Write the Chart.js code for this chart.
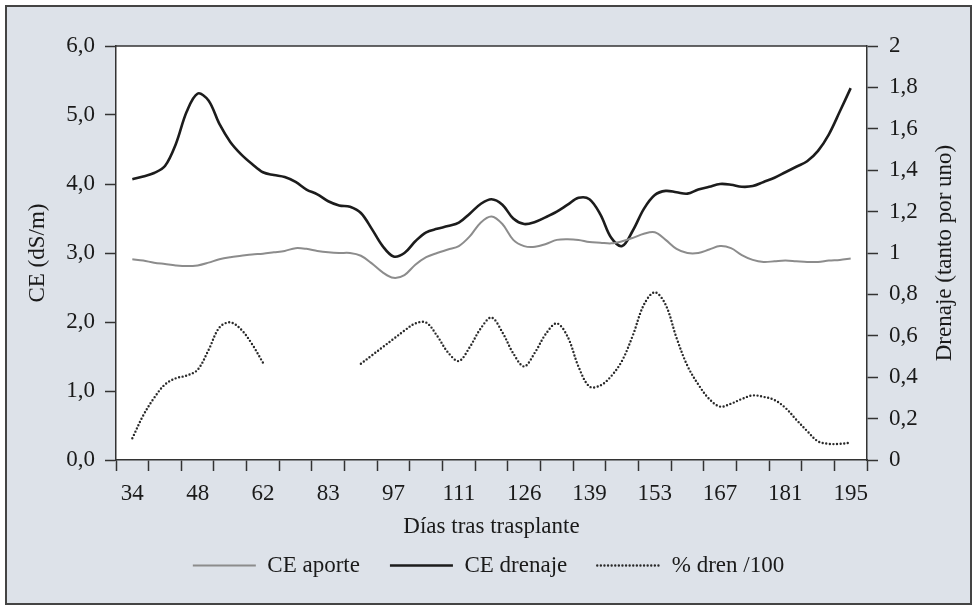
<!DOCTYPE html>
<html lang="es">
<head>
<meta charset="utf-8">
<title>CE aporte y drenaje</title>
<script src="https://cdn.jsdelivr.net/npm/chart.js@4.4.1/dist/chart.umd.min.js"></script>
<style>
  html, body { margin: 0; padding: 0; background: #fff; }
  #marco {
    position: absolute; left: 5px; top: 5px; width: 967px; height: 600px;
    box-sizing: border-box; border: 2px solid #444; background: #dde2e9;
  }
  #lienzo { position: absolute; left: 0; top: 0; width: 977px; height: 607px; }
</style>
</head>
<body>
<div id="marco"></div>
<div id="lienzo"><canvas id="grafico"></canvas></div>
<script>
/* global Chart */

// etiquetas visibles del eje X (una de cada dos marcas)
const diasEtiqueta = ["34", "48", "62", "83", "97", "111", "126", "139", "153", "167", "181", "195"];

// CE aporte (dS/m), eje izquierdo
const ceAporte = [
  2.91, 2.89, 2.86, 2.84, 2.82, 2.81, 2.82, 2.86, 2.91, 2.94,
  2.96, 2.98, 2.99, 3.01, 3.03, 3.07, 3.06, 3.03, 3.01, 3.00,
  3.00, 2.96, 2.85, 2.72, 2.64, 2.68, 2.83, 2.94, 3.00, 3.05,
  3.10, 3.24, 3.44, 3.53, 3.42, 3.19, 3.10, 3.09, 3.13, 3.19,
  3.20, 3.19, 3.16, 3.15, 3.14, 3.17, 3.22, 3.28, 3.30, 3.19,
  3.06, 3.00, 3.00, 3.05, 3.10, 3.07, 2.97, 2.90, 2.87, 2.88,
  2.89, 2.88, 2.87, 2.87, 2.89, 2.90, 2.92
];

// CE drenaje (dS/m), eje izquierdo
const ceDrenaje = [
  4.07, 4.11, 4.16, 4.26, 4.58, 5.05, 5.31, 5.21, 4.87, 4.61,
  4.43, 4.29, 4.17, 4.13, 4.10, 4.03, 3.92, 3.85, 3.75, 3.69,
  3.67, 3.58, 3.35, 3.10, 2.95, 3.00, 3.17, 3.30, 3.35, 3.39,
  3.44, 3.57, 3.71, 3.78, 3.70, 3.50, 3.42, 3.45, 3.52, 3.60,
  3.70, 3.80, 3.78, 3.56, 3.22, 3.10, 3.33, 3.64, 3.84, 3.90,
  3.88, 3.86, 3.92, 3.96, 4.00, 3.99, 3.96, 3.97, 4.03, 4.09,
  4.17, 4.25, 4.33, 4.48, 4.72, 5.05, 5.39
];

// % drenaje / 100, eje derecho (sin datos entre 62 y 90)
const drenaje = [
  0.105, 0.215, 0.300, 0.365, 0.395, 0.408, 0.436, 0.531, 0.640, 0.665,
  0.630, 0.560, 0.470, null, null, null, null, null, null, null,
  null, 0.465, 0.505, 0.545, 0.585, 0.625, 0.660, 0.664, 0.600, 0.520,
  0.478, 0.545, 0.635, 0.688, 0.617, 0.515, 0.452, 0.520, 0.610, 0.660,
  0.595, 0.450, 0.355, 0.360, 0.405, 0.480, 0.604, 0.750, 0.810, 0.750,
  0.590, 0.455, 0.365, 0.295, 0.258, 0.272, 0.295, 0.312, 0.305, 0.290,
  0.252, 0.195, 0.140, 0.090, 0.078, 0.078, 0.084
];

const TEXTO = "#1a1a1a";
const EJE = "#333333";
const FUENTE = { family: "'Liberation Serif', 'Times New Roman', serif", size: 23 };

// 3 muestras por marca del eje, etiqueta cada 2 marcas
const categorias = [""];
ceAporte.forEach((_, i) => {
  categorias.push(i % 6 === 0 ? diasEtiqueta[i / 6] : "");
});
categorias.push("");

const pad = (arr) => [null, ...arr, null];

function coma(v) {
  return String(+Number(v).toFixed(1)).replace(".", ",");
}

const fondoYTitulo = {
  id: "fondoYTitulo",
  beforeDraw(chart) {
    const { ctx, chartArea: a } = chart;
    ctx.save();
    ctx.fillStyle = "#ffffff";
    ctx.fillRect(a.left, a.top, a.right - a.left, a.bottom - a.top);
    ctx.restore();
  },
  afterDraw(chart) {
    const { ctx, chartArea: a } = chart;
    const yd = chart.scales.y2;
    ctx.save();
    ctx.strokeStyle = EJE;
    ctx.lineWidth = 1.5;
    ctx.beginPath();
    ctx.moveTo(a.left, a.top);
    ctx.lineTo(a.right, a.top);
    ctx.stroke();
    ctx.translate(yd.right - 32, (a.top + a.bottom) / 2);
    ctx.rotate(-Math.PI / 2);
    ctx.fillStyle = TEXTO;
    ctx.font = `${FUENTE.size}px ${FUENTE.family}`;
    ctx.textAlign = "center";
    ctx.textBaseline = "middle";
    ctx.fillText("Drenaje (tanto por uno)", 0, 0);
    ctx.restore();
  }
};

new Chart(document.getElementById("grafico"), {
  type: "line",
  data: {
    labels: categorias,
    datasets: [
      {
        label: "CE aporte",
        data: pad(ceAporte),
        yAxisID: "y",
        borderColor: "#8c8c8c",
        backgroundColor: "transparent",
        borderWidth: 2,
        pointRadius: 0,
        tension: 0.35
      },
      {
        label: "CE drenaje",
        data: pad(ceDrenaje),
        yAxisID: "y",
        borderColor: "#1c1c1c",
        backgroundColor: "transparent",
        borderWidth: 2.6,
        pointRadius: 0,
        tension: 0.35
      },
      {
        label: "% dren /100",
        data: pad(drenaje),
        yAxisID: "y2",
        borderColor: "#2a2a2a",
        backgroundColor: "transparent",
        borderWidth: 2.4,
        borderDash: [0, 3.6],
        borderCapStyle: "round",
        pointRadius: 0,
        spanGaps: false,
        tension: 0.35
      }
    ]
  },
  options: {
    responsive: true,
    maintainAspectRatio: false,
    animation: false,
    layout: { padding: { top: 46, left: 0, right: 0, bottom: 20 } },
    plugins: {
      tooltip: { enabled: false },
      legend: {
        position: "bottom",
        labels: {
          color: TEXTO,
          font: FUENTE,
          boxWidth: 63,
          boxHeight: 0,
          padding: 30
        }
      }
    },
    scales: {
      x: {
        type: "category",
        offset: true,
        afterFit(s) { s.height = 64; },
        grid: {
          offset: true,
          drawOnChartArea: false,
          drawTicks: true,
          tickLength: 11,
          tickWidth: 1.5,
          tickColor: (c) => (c.index === undefined || c.index % 3 === 0 ? EJE : "transparent")
        },
        border: { display: true, color: EJE, width: 1.5 },
        ticks: {
          autoSkip: false,
          maxRotation: 0,
          minRotation: 0,
          color: TEXTO,
          font: FUENTE,
          padding: 9
        },
        title: {
          display: true,
          text: "Días tras trasplante",
          color: TEXTO,
          font: FUENTE,
          padding: { top: 0, bottom: -17 }
        }
      },
      y: {
        position: "left",
        min: 0,
        max: 6,
        afterFit(s) { s.width = 116; },
        grid: { drawOnChartArea: false, tickLength: 11, tickWidth: 1.5, tickColor: EJE },
        border: { display: true, color: EJE, width: 1.5 },
        ticks: {
          stepSize: 1,
          color: TEXTO,
          font: FUENTE,
          padding: 10,
          callback: (v) => Number(v).toFixed(1).replace(".", ",")
        },
        title: {
          display: true,
          text: "CE (dS/m)",
          color: TEXTO,
          font: FUENTE,
          padding: { top: 24, bottom: 0 }
        }
      },
      y2: {
        position: "right",
        min: 0,
        max: 2,
        afterFit(s) { s.width = 110; },
        grid: { drawOnChartArea: false, tickLength: 11, tickWidth: 1.5, tickColor: EJE },
        border: { display: true, color: EJE, width: 1.5 },
        ticks: {
          stepSize: 0.2,
          color: TEXTO,
          font: FUENTE,
          padding: 11,
          callback: (v) => coma(v)
        }
      }
    }
  },
  plugins: [fondoYTitulo]
});
</script>
</body>
</html>
